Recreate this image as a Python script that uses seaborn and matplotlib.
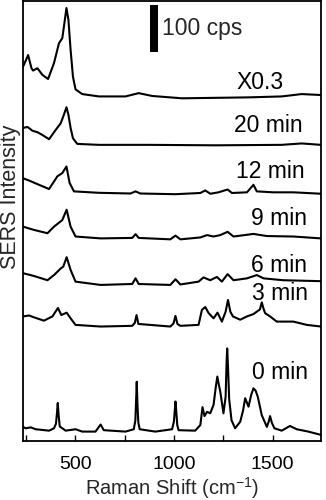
import matplotlib
matplotlib.use("Agg")
import matplotlib.pyplot as plt
from matplotlib.patches import Rectangle
import numpy as np
import pandas as pd
import seaborn as sns

# ---------------- data (Raman shift in cm^-1, intensity in cps above own baseline) ----------------
shift_x03 = [236, 262, 279, 287, 309, 334, 363, 393, 418, 435, 448, 456, 466, 477, 489, 502,
             536, 620, 755, 822, 890, 1041, 1378, 1546, 1647, 1745]
int_x03 = [65, 90, 62, 57, 62, 48, 39, 73, 115, 126, 165, 190, 165, 101, 44, 17,
           7, 2, 2, 9, 3, -2, 0, 2, 7, 5]

shift_20 = [236, 259, 284, 309, 334, 368, 402, 427, 443, 456, 466, 477, 489, 511, 620, 873,
            1210, 1546, 1647, 1745]
int_20 = [38, 40, 32, 29, 23, 14, 34, 48, 66, 82, 66, 38, 16, 4, 2, 2, 1, 2, 5, 2]

shift_12 = [236, 267, 317, 368, 410, 435, 456, 472, 494, 620, 780, 806, 830, 1007, 1134, 1159,
            1184, 1226, 1272, 1294, 1370, 1403, 1420, 1504, 1605, 1745]
int_12 = [34, 29, 20, 11, 38, 45, 59, 24, 6, 3, 1.5, 6, 1.5, 0, 2.6, 8,
          1, 4, 10, 2.6, 4, 20, 6, 4, 4, 1]

shift_9 = [236, 292, 360, 393, 435, 457, 477, 502, 629, 789, 806, 822, 982, 1008, 1033, 1134,
           1168, 1201, 1235, 1272, 1302, 1403, 1471, 1605, 1745]
int_9 = [24, 17, 10, 24, 38, 60, 24, 3, -1, 0, 8, 0, -3, 5, -3, 1,
         6, 3, 6, 13, 3, 8.5, 4, 3, -1]

shift_6 = [236, 292, 360, 393, 427, 440, 457, 477, 502, 629, 789, 806, 822, 982, 1008, 1033,
           1125, 1150, 1184, 1218, 1243, 1272, 1302, 1370, 1420, 1454, 1554, 1745]
int_6 = [21, 15, 6, 17, 31, 35, 55, 28, 3, -4, -2, 10, -2, -4, 8, -3,
         3, 12, 6, 13, 3, 19, 6, 10, 17, 10, 6, 4]

shift_3 = [236, 267, 292, 342, 385, 413, 430, 457, 477, 502, 629, 789, 802, 811, 820, 982,
           998, 1008, 1018, 1033, 1125, 1142, 1159, 1176, 1201, 1221, 1243, 1262, 1274, 1286,
           1299, 1336, 1370, 1403, 1436, 1445, 1455, 1462, 1487, 1521, 1605, 1673, 1745]
int_3 = [20, 22, 18, 11, 20, 38, 23, 28, 16, 2, -1.5, 0, 6, 23, 4, -1.5,
         5, 21, 4, 0, 2, 34, 40, 27, 16, 28, 9, 30, 55, 30,
         20, 13, 20, 25, 35, 50, 35, 27, 20, 9, 9, 2, -1.5]

shift_0 = [236, 250, 275, 300, 368, 393, 403, 408, 412, 416, 422, 452, 502, 536, 603, 629,
           645, 755, 797, 805, 809, 812, 815, 820, 827, 906, 991, 1000, 1005, 1008, 1012,
           1017, 1024, 1108, 1134, 1145, 1155, 1168, 1184, 1201, 1212, 1220, 1228, 1235, 1251,
           1262, 1267, 1270, 1274, 1280, 1292, 1310, 1336, 1350, 1361, 1378, 1392, 1403, 1414,
           1425, 1445, 1471, 1480, 1487, 1496, 1509, 1546, 1588, 1622, 1681, 1745]
int_0 = [11, 8, 10, 6, 3, 8, 18, 40, 62, 38, 12, 3, 6, 1, 1, 16,
         4, 1, 6, 25, 70, 107, 65, 20, 6, 1, 6, 22, 48, 65, 45,
         15, 4, 3, 15, 53, 34, 43, 40, 58, 95, 118, 100, 86, 40,
         75, 150, 178, 140, 70, 25, 8, 22, 45, 72, 54, 80, 93, 88,
         75, 36, 11, 22, 34, 20, 8, 3, 13, 6, 1, -6]

labels = ["X0.3", "20 min", "12 min", "9 min", "6 min", "3 min", "0 min"]
offsets = [731, 628, 525, 432, 336, 245, 19]          # vertical stacking offsets (cps)
scale_bar_cps = 100

shifts = [shift_x03, shift_20, shift_12, shift_9, shift_6, shift_3, shift_0]
ints = [int_x03, int_20, int_12, int_9, int_6, int_3, int_0]

frames = []
for lab, off, sx, iy in zip(labels, offsets, shifts, ints):
    frames.append(pd.DataFrame({"shift": sx,
                                "signal": np.asarray(iy, float) + off,
                                "trace": lab}))
df = pd.concat(frames, ignore_index=True)

# ---------------- style ----------------
sns.set_style("ticks")
plt.rcParams["font.family"] = ["Liberation Sans", "DejaVu Sans"]
plt.rcParams["mathtext.default"] = "regular"

fig = plt.figure(figsize=(3.26, 5.0), dpi=100)
ax = fig.add_axes([23 / 326, 59 / 500, 298 / 326, 440 / 500])

sns.lineplot(data=df, x="shift", y="signal", units="trace", estimator=None,
             sort=False, color="black", linewidth=1.5, ax=ax)

ax.set_xlim(236, 1745)
ax.set_ylim(0, 936)

ax.set_xticks([500, 1000, 1500])
ax.set_xticks([250, 750, 1250], minor=True)
ax.tick_params(axis="x", which="both", direction="in", length=4, width=1,
               pad=11, labelsize=14, colors="black")
ax.set_yticks([])
for sp in ax.spines.values():
    sp.set_linewidth(1.3)
    sp.set_color("black")
    sp.set_visible(True)

ax.set_xlabel("Raman Shift (cm$^{-1}$)", fontsize=14.5)
ax.set_ylabel("SERS Intensity", fontsize=15.5)
ax.xaxis.set_label_coords(0.5, -0.077)
ax.yaxis.set_label_coords(-0.008, 0.555)

label_x = [1554, 1650, 1664, 1672, 1672, 1677, 1677]
label_y = [748, 657, 559, 460, 360, 299, 131]
for lab, lx, ly in zip(labels, label_x, label_y):
    ax.text(lx, ly, lab, ha="right", va="baseline", fontsize=16.5, color="black")

# scale bar
ax.add_patch(Rectangle((881, 828), 37, scale_bar_cps, color="black", lw=0))
ax.text(940, 864, f"{scale_bar_cps} cps", ha="left", va="baseline", fontsize=16.5)

fig.savefig("out.png", dpi=100)
